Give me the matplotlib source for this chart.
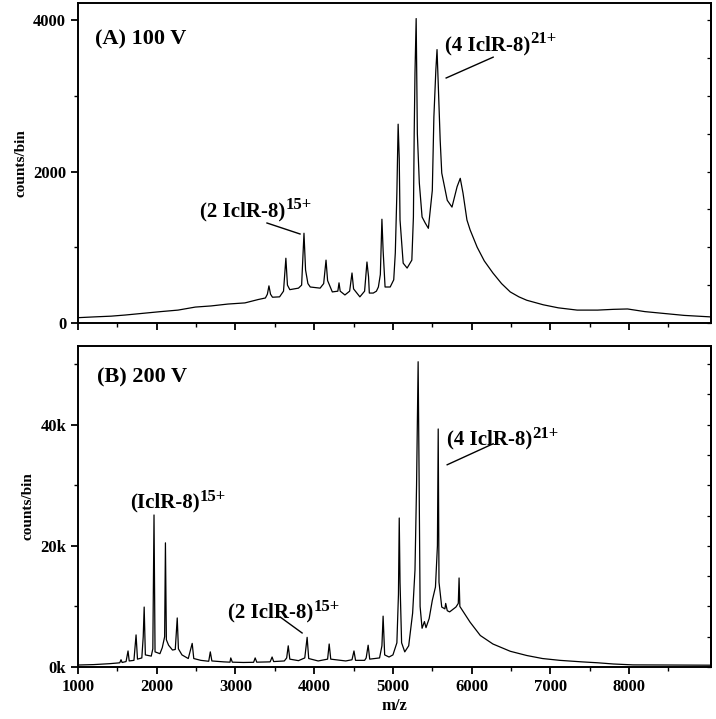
import numpy as np
import matplotlib
matplotlib.use("Agg")
import matplotlib.pyplot as plt
from matplotlib.ticker import MultipleLocator, FixedLocator, FuncFormatter

plt.rcParams['font.family'] = ['Liberation Serif', 'DejaVu Serif']
plt.rcParams['font.weight'] = 'bold'

# (A) 100 V spectrum
mz_a = [1000, 1200, 1420, 1600, 1850, 2050, 2270, 2490, 2690, 2905, 3120, 3290, 3380,
        3405, 3425, 3445, 3470, 3560, 3610, 3640, 3660, 3690, 3800, 3840, 3870, 3890,
        3920, 3950, 4075, 4120, 4150, 4170, 4230, 4300, 4315, 4330, 4390, 4450, 4480,
        4500, 4580, 4640, 4670, 4690, 4700, 4750, 4790, 4815, 4840, 4860, 4875, 4900,
        4965, 5010, 5030, 5050, 5066, 5080, 5090, 5130, 5180, 5240, 5260, 5270, 5280,
        5295, 5310, 5335, 5370, 5410, 5450, 5500, 5520, 5545, 5560, 5575, 5600, 5620,
        5690, 5750, 5815, 5855, 5890, 5940, 5980, 6070, 6160, 6270, 6380, 6490, 6600,
        6700, 6910, 7100, 7340, 7600, 7800, 7980, 8200, 8400, 8700, 9040]
cnt_a = [70, 80, 90, 105, 130, 150, 170, 210, 225, 250, 265, 310, 330,
         380, 490, 380, 340, 345, 420, 855, 500, 440, 460, 500, 1185, 700,
         520, 475, 460, 520, 830, 560, 410, 420, 530, 420, 370, 420, 660,
         450, 345, 420, 805, 610, 395, 395, 420, 475, 640, 1370, 960, 475,
         475, 570, 925, 1720, 2625, 2170, 1360, 790, 725, 830, 1400, 2500, 3300,
         4020, 2500, 1850, 1400, 1320, 1250, 1750, 2720, 3340, 3610, 3170, 2415, 1980,
         1620, 1530, 1800, 1910, 1715, 1360, 1230, 1000, 820, 660, 520, 410, 345,
         300, 240, 200, 170, 170, 180, 185, 150, 130, 100, 80]

# (B) 200 V spectrum
mz_b = [1000, 1200, 1400, 1500, 1530, 1546, 1560, 1610, 1635, 1650, 1710, 1737, 1755,
        1810, 1828, 1840, 1855, 1930, 1950, 1965, 1978, 2040, 2070, 2100, 2110, 2122,
        2150, 2200, 2235, 2260, 2275, 2320, 2400, 2450, 2470, 2560, 2660, 2680, 2700,
        2850, 2930, 2940, 2960, 3100, 3230, 3250, 3270, 3440, 3465, 3485, 3620, 3650,
        3670, 3690, 3800, 3880, 3910, 3930, 4050, 4170, 4190, 4210, 4400, 4480, 4505,
        4525, 4640, 4660, 4685, 4705, 4830, 4860, 4875, 4895, 4950, 5000, 5050, 5070,
        5080, 5090, 5110, 5150, 5200, 5250, 5280, 5300, 5320, 5330, 5345, 5370, 5400,
        5420, 5460, 5500, 5540, 5565, 5575, 5585, 5620, 5660, 5670, 5690, 5720, 5800,
        5830, 5840, 5850, 5900, 5980, 6110, 6270, 6490, 6700, 6900, 7120, 7400, 7600,
        7800, 8050, 8500, 9040]
cnt_b = [330, 400, 550, 660, 700, 1200, 750, 900, 2650, 1000, 1100, 5300, 1300,
         1500, 5000, 9900, 2000, 1800, 3000, 25100, 2500, 2200, 3200, 5000, 20500, 4500,
         3600, 2800, 2900, 8100, 3000, 2000, 1400, 3900, 1400, 1100, 950, 2500, 1000,
         850, 800, 1500, 800, 750, 780, 1500, 800, 850, 1650, 900, 1000, 1500,
         3500, 1300, 1050, 1500, 4900, 1400, 1000, 1300, 3800, 1300, 1000, 1200, 2650,
         1100, 1100, 1500, 3600, 1300, 1500, 3500, 8400, 2000, 1650, 2000, 4000, 12000,
         24600, 14000, 4000, 2500, 3500, 8900, 16000, 30000, 50400, 35000, 10000, 6400, 7500,
         6500, 8000, 11000, 13200, 20000, 39300, 14000, 9900, 9600, 10500, 9300, 9100, 9900,
         10500, 14700, 10000, 9000, 7400, 5200, 3800, 2600, 1900, 1400, 1100, 850, 700,
         500, 350, 330, 300]

x_ticks = [1000, 2000, 3000, 4000, 5000, 6000, 7000, 8000]
x_minor = [1500, 2500, 3500, 4500, 5500, 6500, 7500, 8500]

fig = plt.figure(figsize=(7.16, 7.19), dpi=100)
axA = fig.add_axes([0.109, 0.5508, 0.884, 0.445])
axB = fig.add_axes([0.109, 0.0723, 0.884, 0.4465])

axA.plot(mz_a, cnt_a, color='black', lw=0.9)
axB.plot(mz_b, cnt_b, color='black', lw=0.9)

axA.set_ylim(0, 4225)
axB.set_ylim(0, 53000)
for ax in (axA, axB):
    ax.set_xlim(1000, 9040)
    ax.xaxis.set_major_locator(FixedLocator(x_ticks))
    ax.xaxis.set_minor_locator(FixedLocator(x_minor))
    for s in ax.spines.values():
        s.set_linewidth(1.4)
    ax.tick_params(axis='both', which='major', direction='out', length=5, width=1.3,
                   labelsize=12)
    ax.tick_params(axis='both', which='minor', direction='out', length=3, width=1.0)
    ax.set_ylabel('counts/bin', fontsize=11, fontweight='bold', labelpad=4)

axA.yaxis.set_major_locator(MultipleLocator(2000))
axA.yaxis.set_minor_locator(MultipleLocator(1000))
axA.tick_params(axis='x', labelbottom=False)
axB.yaxis.set_major_locator(MultipleLocator(20000))
axB.yaxis.set_minor_locator(MultipleLocator(10000))
axB.yaxis.set_major_formatter(FuncFormatter(lambda v, p: f"{v/1000:.0f}k"))
axB.set_xlabel('m/z', fontsize=12, fontweight='bold', labelpad=2)

# small inward ticks on the right spine
for ax, step in ((axA, 500), (axB, 5000)):
    sec = ax.secondary_yaxis('right')
    sec.yaxis.set_major_locator(MultipleLocator(step))
    sec.tick_params(direction='in', length=3, width=0.9, labelright=False)
    sec.spines['right'].set_linewidth(1.4)


def label(ax, x, y, main, sup, size=15):
    t = ax.text(x, y, main, fontsize=size, fontweight='bold', va='baseline')
    ax.annotate(sup, xy=(1.0, 0.6), xycoords=t, fontsize=size * 0.8,
                fontweight='bold', va='baseline', ha='left')


axA.text(1220, 3680, '(A) 100 V', fontsize=16, fontweight='bold', va='baseline')
label(axA, 2550, 1410, '(2 IclR-8)', '15+')
axA.plot([3400, 3820], [1320, 1175], color='black', lw=1.0)
label(axA, 5663, 3600, '(4 IclR-8)', '21+')
axA.plot([5676, 6273], [3235, 3510], color='black', lw=1.0)

axB.text(1240, 46950, '(B) 200 V', fontsize=16, fontweight='bold', va='baseline')
label(axB, 1660, 26280, '(IclR-8)', '15+')
label(axB, 2906, 8100, '(2 IclR-8)', '15+')
axB.plot([3567, 3846], [8260, 5620], color='black', lw=1.0)
label(axB, 5690, 36700, '(4 IclR-8)', '21+')
axB.plot([5689, 6273], [33390, 36860], color='black', lw=1.0)

fig.savefig('out.png', dpi=100)
